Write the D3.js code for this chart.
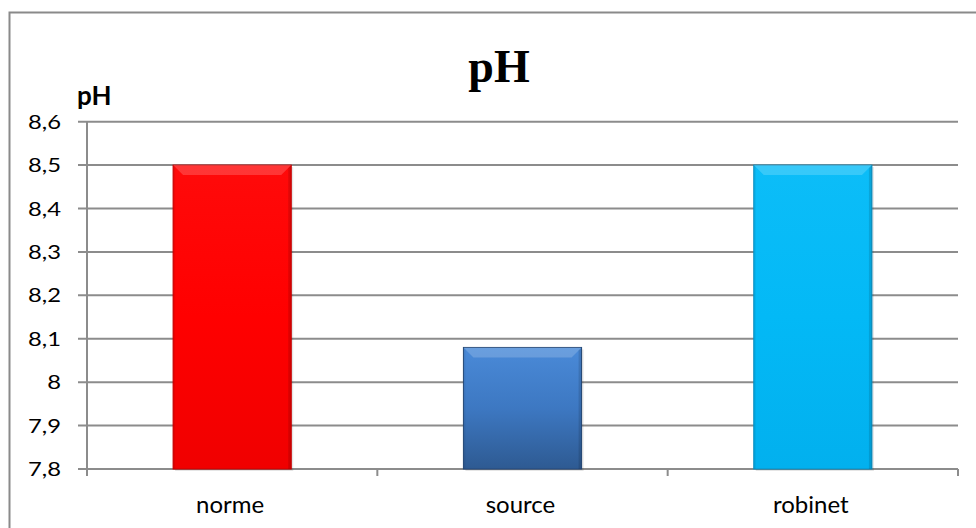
<!DOCTYPE html>
<html><head><meta charset="utf-8">
<script src="https://cdn.jsdelivr.net/npm/d3@7"></script>
<style>body{margin:0;background:#fff}</style>
</head><body>
<svg id="c" width="976" height="528"></svg>
<script>
const categories = ["norme", "source", "robinet"];
const values = [8.5, 8.08, 8.5];
const yTicks = [7.8, 7.9, 8.0, 8.1, 8.2, 8.3, 8.4, 8.5, 8.6];
const colors = [
  {top:"#ff0a0a", mid:"#ff0000", bot:"#f00000", edge:"#c80000"},
  {top:"#4a8ad8", mid:"#3d78c2", bot:"#2e5a92", edge:"#25497a"},
  {top:"#0cbdf8", mid:"#03b9f6", bot:"#02b0ee", edge:"#0a8fc2"}
];

const svg = d3.select("#c");
const x = d3.scaleBand().domain(categories).range([87, 958]).paddingInner(0.593).paddingOuter(0.2965);
const y = d3.scaleLinear().domain([7.8, 8.6]).range([469, 121.7]);
const FONT = "Lato, 'Open Sans', sans-serif";

// outer frame
svg.append("rect").attr("x",9.5).attr("y",12.5).attr("width",1000).attr("height",1000)
  .attr("fill","none").attr("stroke","#8a8a8a").attr("stroke-width",2);

const defs = svg.append("defs");
colors.forEach((c,i)=>{
  const g = defs.append("linearGradient").attr("id","g"+i).attr("x1",0).attr("y1",0).attr("x2",0).attr("y2",1);
  g.append("stop").attr("offset","0%").attr("stop-color",c.top);
  g.append("stop").attr("offset","50%").attr("stop-color",c.mid);
  g.append("stop").attr("offset","100%").attr("stop-color",c.bot);
});

// gridlines
svg.append("g").selectAll("line").data(yTicks).join("line")
  .attr("x1",78).attr("x2",958).attr("y1",d=>y(d)).attr("y2",d=>y(d))
  .attr("stroke","#8c8c8c").attr("stroke-width",2);

// y axis line
svg.append("line").attr("x1",87).attr("x2",87).attr("y1",y(8.6)).attr("y2",y(7.8)+7)
  .attr("stroke","#8c8c8c").attr("stroke-width",2);

// x axis ticks at band boundaries
const bounds = categories.map(c=>x(c) - x.step()*x.paddingInner()/2).concat([958]);
bounds[0] = 87;
svg.append("g").selectAll("line").data(bounds).join("line")
  .attr("x1",d=>d).attr("x2",d=>d).attr("y1",y(7.8)).attr("y2",y(7.8)+7)
  .attr("stroke","#8c8c8c").attr("stroke-width",2);

// y tick labels (horizontally stretched like the original)
svg.append("g").selectAll("text").data(yTicks).join("text")
  .attr("transform",d=>`translate(61,${y(d)}) scale(1.22,1)`)
  .attr("dy","0.36em").attr("text-anchor","end")
  .attr("font-family",FONT).attr("font-size",19.5).attr("fill","#000")
  .text(d=>d3.format(".1f")(d).replace(".",",").replace(",0",""));

// bars
const bars = svg.append("g").selectAll("g").data(categories).join("g");
bars.append("rect")
  .attr("x",d=>x(d)+2).attr("y",(d,i)=>y(values[i])+2).attr("width",x.bandwidth()).attr("height",(d,i)=>y(7.8)-y(values[i]))
  .attr("fill","#000").attr("opacity",0.1);
bars.append("rect")
  .attr("x",d=>x(d)).attr("y",(d,i)=>y(values[i])).attr("width",x.bandwidth()).attr("height",(d,i)=>y(7.8)-y(values[i]))
  .attr("fill",(d,i)=>`url(#g${i})`).attr("stroke",(d,i)=>colors[i].edge).attr("stroke-width",1);
// bevel top
bars.append("path").attr("d",(d,i)=>{
  const x0=x(d), x1=x(d)+x.bandwidth(), y0=y(values[i]), b=10;
  return `M${x0},${y0}L${x1},${y0}L${x1-b},${y0+b}L${x0+b},${y0+b}Z`;
}).attr("fill","#fff").attr("opacity",0.18);
// bevel sides
bars.append("path").attr("d",(d,i)=>{
  const x1=x(d)+x.bandwidth(), y0=y(values[i]), y1=y(7.8), b=3;
  return `M${x1},${y0}L${x1},${y1}L${x1-b},${y1}L${x1-b},${y0+b}Z`;
}).attr("fill","#000").attr("opacity",0.12);
bars.append("path").attr("d",(d,i)=>{
  const x0=x(d), y0=y(values[i]), y1=y(7.8), b=2;
  return `M${x0},${y0}L${x0},${y1}L${x0+b},${y1}L${x0+b},${y0+b}Z`;
}).attr("fill","#000").attr("opacity",0.06);

// category labels
svg.append("g").selectAll("text").data(categories).join("text")
  .attr("x",d=>x(d)+x.bandwidth()/2 - 2).attr("y",513).attr("text-anchor","middle")
  .attr("font-family",FONT).attr("font-size",24).attr("fill","#000")
  .text(d=>d);

// title
svg.append("text").attr("x",499).attr("y",82).attr("text-anchor","middle")
  .attr("font-family","'Liberation Serif', 'DejaVu Serif', serif").attr("font-weight","bold").attr("font-size",46)
  .text("pH");

// axis title
svg.append("text").attr("x",77).attr("y",105)
  .attr("font-family",FONT).attr("font-weight","bold").attr("font-size",26)
  .text("pH");
</script>
</body></html>
